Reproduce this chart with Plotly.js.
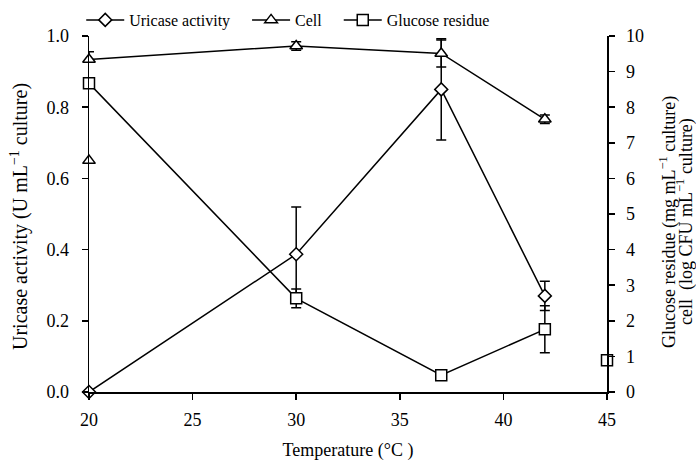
<!DOCTYPE html>
<html>
<head>
<meta charset="utf-8">
<script src="https://cdn.plot.ly/plotly-3.0.1.min.js"></script>
<style>html,body{margin:0;padding:0;background:#fff;}#chart{width:696px;height:461px;}</style>
</head>
<body>
<div id="chart"></div>
<script>
const temperature = [20, 30, 37, 42];
const uricase = [0.0, 0.387, 0.850, 0.270];
const uricaseErr = [0, 0.133, 0.142, 0.041];
const cell = [9.34, 9.72, 9.51, 7.66];
const cellErrPlus = [0.22, 0.12, 0.38, 0.12];
const cellErrMinus = [0.05, 0.12, 0.38, 0.12];
const glucose = [8.67, 2.63, 0.47, 1.76];
const glucoseErr = [0, 0.26, 0, 0.66];
const extraCellX = [20];
const extraCell = [6.5];
const extraGlucoseX = [45];
const extraGlucose = [0.89];
const xTicks = [20, 25, 30, 35, 40, 45];

const font = '"Liberation Serif", "Times New Roman", serif';
const lw = 1.5;
const errStyle = (plus, minus) => ({type: 'data', array: plus, arrayminus: minus || plus, symmetric: !minus, color: '#000', thickness: lw, width: 5, visible: true});
const mk = (sym, size) => ({symbol: sym, size: size, color: '#fff', line: {color: '#000', width: lw}});
const pad = '\u00a0\u00a0\u00a0';

const traces = [
  {x: temperature, y: uricase, yaxis: 'y', name: 'Uricase activity' + pad, mode: 'lines+markers', cliponaxis: false,
   line: {color: '#000', width: lw}, marker: mk('diamond', 10), error_y: errStyle(uricaseErr)},
  {x: temperature, y: cell, yaxis: 'y2', name: 'Cell' + pad, mode: 'lines+markers', cliponaxis: false,
   line: {color: '#000', width: lw}, marker: mk('triangle-up', 11), error_y: errStyle(cellErrPlus, cellErrMinus)},
  {x: temperature, y: glucose, yaxis: 'y2', name: 'Glucose residue', mode: 'lines+markers', cliponaxis: false,
   line: {color: '#000', width: lw}, marker: mk('square', 11), error_y: errStyle(glucoseErr)},
  {x: extraCellX, y: extraCell, yaxis: 'y2', mode: 'markers', showlegend: false, cliponaxis: false,
   marker: mk('triangle-up', 11)},
  {x: extraGlucoseX, y: extraGlucose, yaxis: 'y2', mode: 'markers', showlegend: false, cliponaxis: false,
   marker: mk('square', 11)}
];

const layout = {
  width: 696, height: 461,
  margin: {l: 89, r: 89, t: 36, b: 69, autoexpand: false},
  paper_bgcolor: '#fff', plot_bgcolor: '#fff',
  font: {family: font, size: 18, color: '#000'},
  showlegend: true,
  legend: {orientation: 'h', x: -0.015, xanchor: 'left', y: 1.045, yanchor: 'middle',
           font: {family: font, size: 16, color: '#000'}, bgcolor: 'rgba(0,0,0,0)', itemwidth: 38,
           traceorder: 'normal'},
  xaxis: {range: [20, 45], tickvals: xTicks, showgrid: false, zeroline: false,
          showline: true, linecolor: '#000', linewidth: lw, ticks: 'outside', ticklen: 6, tickwidth: lw,
          tickcolor: '#000', tickfont: {family: font, size: 18}, ticklabelstandoff: 5,
          title: {text: 'Temperature (°C )', font: {family: font, size: 18}, standoff: 16}},
  yaxis: {range: [0, 1.0], dtick: 0.2, tickformat: '.1f', showgrid: false, zeroline: false,
          showline: true, linecolor: '#000', linewidth: lw, ticks: 'outside', ticklen: 6, tickwidth: lw,
          tickcolor: '#000', tickfont: {family: font, size: 18}, ticklabelstandoff: 9},
  yaxis2: {range: [0, 10], dtick: 1, overlaying: 'y', side: 'right', showgrid: false, zeroline: false,
          showline: true, linecolor: '#000', linewidth: lw, ticks: 'outside', ticklen: 6, tickwidth: lw,
          tickcolor: '#000', tickfont: {family: font, size: 18}, ticklabelstandoff: 8},
  annotations: [
    {text: 'Uricase activity (U mL<sup>−1</sup> culture)', textangle: -90, xref: 'paper', yref: 'paper',
     x: -0.1332, y: 0.4916, xanchor: 'center', yanchor: 'middle', showarrow: false,
     font: {family: font, size: 20, color: '#000'}},
    {text: 'Glucose residue (mg mL<sup>−1</sup> culture)', textangle: -90, xref: 'paper', yref: 'paper',
     x: 1.1178, y: 0.4775, xanchor: 'center', yanchor: 'middle', showarrow: false,
     font: {family: font, size: 18, color: '#000'}},
    {text: 'cell  (log CFU mL<sup>−1</sup> culture)', textangle: -90, xref: 'paper', yref: 'paper',
     x: 1.1506, y: 0.4775, xanchor: 'center', yanchor: 'middle', showarrow: false,
     font: {family: font, size: 18, color: '#000'}}
  ]
};

Plotly.newPlot('chart', traces, layout, {displayModeBar: false, staticPlot: true});
</script>
</body>
</html>
